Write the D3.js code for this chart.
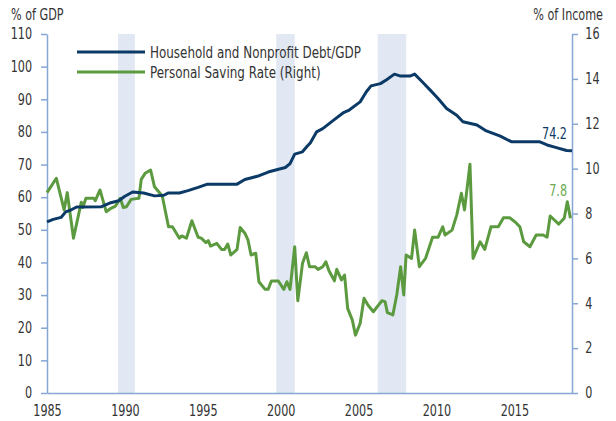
<!DOCTYPE html>
<html>
<head>
<meta charset="utf-8">
<script src="https://cdn.jsdelivr.net/npm/d3@7"></script>
<style>
  body { margin: 0; background: #fff; }
  svg text { font-family: "DejaVu Sans Condensed", "Liberation Sans", sans-serif; fill: #333; }
</style>
</head>
<body>
<div id="chart"></div>
<script>
// household debt / GDP (left axis, %)
var debtData = [
  [1985.0, 52.4], [1985.4, 53.2], [1985.9, 53.8], [1986.2, 55.5], [1986.5, 56.0],
  [1986.9, 57.0], [1988.5, 57.1], [1989.1, 58.3], [1989.6, 58.9], [1990.0, 60.3],
  [1990.5, 61.6], [1991.2, 61.3], [1991.9, 60.4], [1992.5, 60.6], [1992.8, 61.3],
  [1993.5, 61.3], [1994.05, 62.0], [1994.7, 63.0], [1995.3, 64.0], [1997.2, 64.0],
  [1997.7, 65.4], [1998.5, 66.4], [1999.2, 67.7], [1999.8, 68.5], [2000.3, 69.1],
  [2000.6, 70.3], [2000.9, 73.2], [2001.4, 73.9], [2001.7, 75.6], [2001.9, 76.6],
  [2002.3, 80.0], [2002.7, 81.0], [2003.4, 83.6], [2004.0, 85.8], [2004.4, 86.7],
  [2005.1, 89.2], [2005.5, 92.3], [2005.8, 94.1], [2006.4, 94.8], [2006.8, 96.0],
  [2007.3, 97.7], [2007.7, 97.1], [2008.3, 97.1], [2008.6, 97.7], [2009.1, 95.3],
  [2009.6, 92.8], [2010.0, 90.8], [2010.2, 89.7], [2010.65, 87.2], [2011.3, 85.1],
  [2011.7, 83.1], [2012.6, 82.1], [2013.2, 80.3], [2014.1, 78.7], [2014.8, 77.0],
  [2016.6, 77.0], [2017.1, 76.0], [2017.7, 75.2], [2018.35, 74.3], [2018.7, 74.2]
];

// personal saving rate (right axis, % of income)
var savingData = [
  [1985.0, 8.93], [1985.6, 9.57], [1986.1, 8.16], [1986.3, 8.93], [1986.7, 6.9],
  [1987.2, 8.5], [1987.3, 8.27], [1987.5, 8.68], [1988.0, 8.68], [1988.1, 8.57],
  [1988.4, 9.05], [1988.8, 8.08], [1989.1, 8.23], [1989.4, 8.33], [1989.7, 8.68],
  [1989.9, 8.27], [1990.1, 8.3], [1990.4, 8.63], [1990.9, 8.68], [1991.05, 9.52],
  [1991.3, 9.79], [1991.65, 9.94], [1991.9, 9.19], [1992.4, 8.78], [1992.8, 7.41],
  [1993.05, 7.41], [1993.5, 6.9], [1993.65, 7.0], [1993.95, 6.9], [1994.3, 7.68],
  [1994.7, 6.94], [1994.9, 6.9], [1995.2, 6.7], [1995.35, 6.79], [1995.5, 6.55],
  [1995.9, 6.67], [1996.2, 6.4], [1996.4, 6.4], [1996.6, 6.64], [1996.8, 6.15],
  [1997.2, 6.4], [1997.4, 7.38], [1997.7, 7.12], [1997.9, 6.82], [1998.1, 6.15],
  [1998.4, 6.23], [1998.6, 4.96], [1999.0, 4.62], [1999.2, 4.62], [1999.4, 4.99],
  [1999.85, 4.99], [2000.2, 4.62], [2000.4, 4.96], [2000.6, 4.62], [2000.9, 6.52],
  [2001.1, 4.11], [2001.4, 5.78], [2001.65, 6.25], [2001.85, 5.63], [2002.2, 5.63],
  [2002.4, 5.51], [2002.7, 5.63], [2002.9, 5.85], [2003.1, 5.45], [2003.45, 5.0],
  [2003.6, 5.51], [2003.9, 5.04], [2004.1, 5.26], [2004.3, 3.77], [2004.6, 3.25],
  [2004.8, 2.58], [2005.1, 3.1], [2005.35, 4.22], [2005.6, 3.92], [2005.95, 3.62],
  [2006.2, 3.85], [2006.5, 4.11], [2006.7, 4.07], [2006.85, 3.58], [2007.2, 3.48],
  [2007.45, 4.37], [2007.7, 5.63], [2007.9, 4.37], [2008.05, 6.15], [2008.4, 6.0],
  [2008.6, 7.26], [2008.9, 5.63], [2009.3, 6.0], [2009.75, 6.94], [2010.1, 6.94],
  [2010.4, 7.41], [2010.55, 7.04], [2011.0, 7.26], [2011.3, 7.93], [2011.6, 8.9],
  [2011.8, 8.16], [2012.15, 10.2], [2012.35, 6.0], [2012.8, 6.74], [2013.1, 6.4],
  [2013.5, 7.41], [2013.97, 7.41], [2014.3, 7.81], [2014.7, 7.81], [2015.1, 7.59],
  [2015.35, 7.41], [2015.6, 6.74], [2016.0, 6.52], [2016.4, 7.04], [2016.85, 7.04],
  [2017.1, 6.94], [2017.3, 7.89], [2017.85, 7.53], [2018.2, 7.79], [2018.4, 8.52],
  [2018.6, 7.79]
];

// recession shading (start, end)
var recessions = [[1989.56, 1990.64], [1999.72, 2000.9], [2006.23, 2008.06]];

var xTicks = [1985, 1990, 1995, 2000, 2005, 2010, 2015];
var leftTicks = d3.range(0, 111, 10);
var rightTicks = d3.range(0, 17, 2);
var seriesNames = ["Household and Nonprofit Debt/GDP", "Personal Saving Rate (Right)"];
var lastLabels = ["74.2", "7.8"];

var width = 616, height = 421;
var margin = {top: 34, right: 44, bottom: 28, left: 47};
var navy = "#0c3a66", green = "#5c9a40", axisCol = "#86a6d3";
var sx = 0.83; // squeeze text, the original uses a condensed face

var svg = d3.select("#chart").append("svg")
    .attr("width", width)
    .attr("height", height);

var x = d3.scaleLinear()
    .domain([1985, 2018.7])
    .range([margin.left, width - margin.right]);

var yL = d3.scaleLinear()
    .domain([0, 110])
    .range([height - margin.bottom, margin.top]);

var yR = d3.scaleLinear()
    .domain([0, 16])
    .range([height - margin.bottom, margin.top]);

function label(px, py, txt, size, anchor, color) {
    return svg.append("text")
        .attr("transform", "translate(" + px + "," + py + ") scale(" + sx + ",1)")
        .attr("text-anchor", anchor)
        .style("font-size", size + "px")
        .style("fill", color || "#333")
        .text(txt);
}

// recession bars
svg.selectAll(".rec")
    .data(recessions)
    .enter().append("rect")
    .attr("class", "rec")
    .attr("x", d => x(d[0]))
    .attr("width", d => x(d[1]) - x(d[0]))
    .attr("y", yL(110))
    .attr("height", yL(0) - yL(110))
    .style("fill", "#e1e8f3");

// axes
var leftAxis = svg.append("g")
    .attr("transform", "translate(" + margin.left + ",0)")
    .call(d3.axisLeft(yL).tickValues(leftTicks).tickSize(6).tickSizeOuter(0).tickPadding(12));

var rightAxis = svg.append("g")
    .attr("transform", "translate(" + (width - margin.right) + ",0)")
    .call(d3.axisRight(yR).tickValues(rightTicks).tickSize(6).tickSizeOuter(0).tickPadding(10));

var bottomAxis = svg.append("g")
    .attr("transform", "translate(0," + yL(0) + ")")
    .call(d3.axisBottom(x).tickValues(xTicks).tickFormat(d3.format("d")).tickSize(0).tickPadding(12));

[leftAxis, rightAxis, bottomAxis].forEach(function(g) {
    g.select(".domain").attr("stroke", axisCol).attr("stroke-width", 1.5);
    g.selectAll(".tick line").attr("stroke", axisCol).attr("stroke-width", 1.5);
    g.selectAll(".tick text")
        .attr("transform", "scale(" + sx + ",1)")
        .style("font-size", "15px")
        .attr("fill", "#333");
});

// axis titles
label(11, 20, "% of GDP", 15, "start");
label(603, 20, "% of Income", 15, "end");

// lines
var lineL = d3.line().x(d => x(d[0])).y(d => yL(d[1]));
var lineR = d3.line().x(d => x(d[0])).y(d => yR(d[1]));

svg.append("path")
    .datum(savingData)
    .attr("d", lineR)
    .attr("fill", "none")
    .attr("stroke", green)
    .attr("stroke-width", 3)
    .attr("stroke-linejoin", "round");

svg.append("path")
    .datum(debtData)
    .attr("d", lineL)
    .attr("fill", "none")
    .attr("stroke", navy)
    .attr("stroke-width", 3)
    .attr("stroke-linejoin", "round");

// end labels
label(567, yL(debtData[debtData.length - 1][1]) - 12, lastLabels[0], 15, "end", navy);
label(567, yR(savingData[savingData.length - 1][1]) - 22, lastLabels[1], 15, "end", "#6aa84f");

// legend
[navy, green].forEach(function(c, i) {
    svg.append("line")
        .attr("x1", 77).attr("x2", 145)
        .attr("y1", 52 + i * 20).attr("y2", 52 + i * 20)
        .attr("stroke", c).attr("stroke-width", 3);
    label(150, 52 + i * 20 + 6, seriesNames[i], 16, "start");
});
</script>
</body>
</html>
